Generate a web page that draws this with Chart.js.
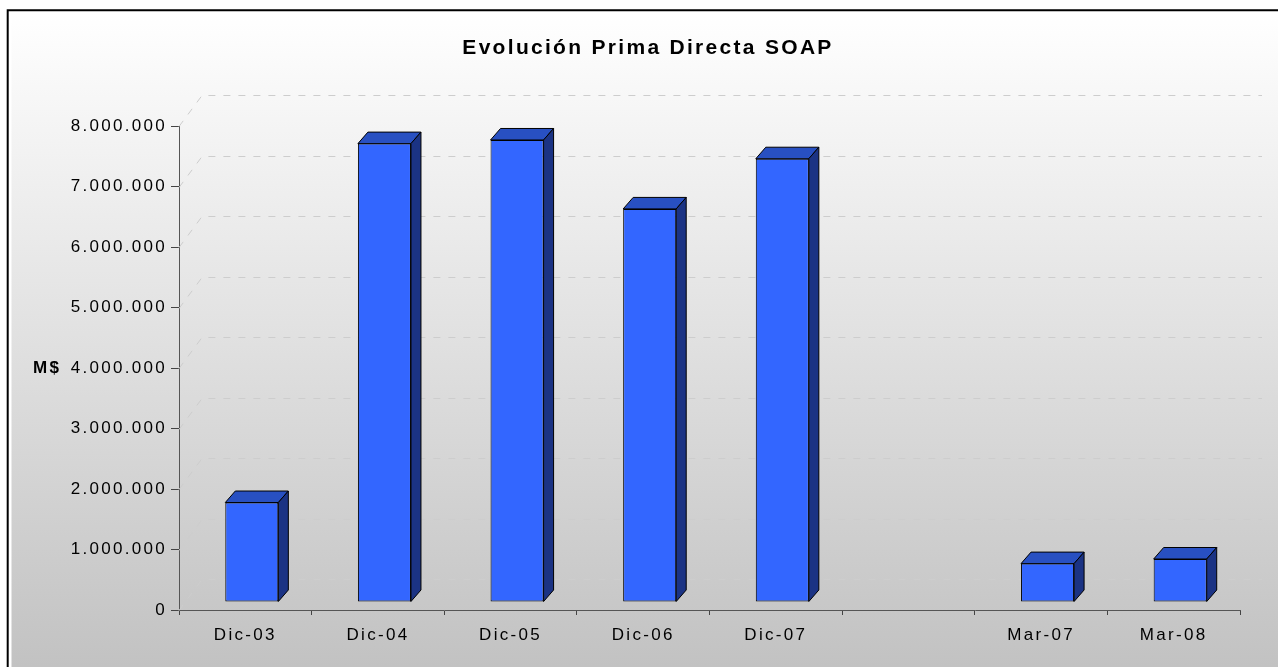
<!DOCTYPE html>
<html>
<head>
<meta charset="utf-8">
<script src="https://cdn.jsdelivr.net/npm/chart.js@4.4.1/dist/chart.umd.min.js"></script>
<style>
  body { margin: 0; background: #fff; }
  canvas { display: block; }
</style>
</head>
<body>
<canvas id="prima-chart" width="1278" height="667"></canvas>
<script>
const periodos = ['Dic-03', 'Dic-04', 'Dic-05', 'Dic-06', 'Dic-07', '', 'Mar-07', 'Mar-08'];
const primaDirecta = [1645000, 7580000, 7640000, 6500000, 7330000, null, 635000, 711000];
const yMax = 8000000;
const yStep = 1000000;
const titulo = 'Evolución Prima Directa SOAP';
const unidad = 'M$';

// desplazamiento de la pared del fondo y de las barras (efecto 3D)
const fondoDx = 23, fondoDy = -31;
const barraDx = 6.5, barraDy = -8;
const caraDx = 10, caraDy = -11.5;
const espaciado = '2.3px';

Chart.defaults.font.family = "'Liberation Sans', Arial, sans-serif";
Chart.defaults.color = '#000';

function formatoMiles(v) {
    return String(v).replace(/\B(?=(\d{3})+(?!\d))/g, '.');
}

const efecto3d = {
    id: 'efecto3d',
    beforeUpdate(chart) {
        chart.ctx.letterSpacing = espaciado;
    },
    beforeDraw(chart) {
        const c = chart.ctx;
        const w = chart.width, h = chart.height;
        c.save();
        c.fillStyle = '#fff';
        c.fillRect(0, 0, w, h);
        const g = c.createLinearGradient(0, 12, 0, h);
        g.addColorStop(0, '#ffffff');
        g.addColorStop(1, '#c2c2c2');
        c.fillStyle = g;
        c.fillRect(11.5, 12.5, w - 11.5, h - 12.5);
        c.strokeStyle = '#000';
        c.lineWidth = 2;
        c.beginPath();
        c.moveTo(7.7, h);
        c.lineTo(7.7, 10.3);
        c.lineTo(w, 10.3);
        c.stroke();
        c.restore();
        c.letterSpacing = espaciado;
    },
    beforeDatasetsDraw(chart) {
        const c = chart.ctx;
        const y = chart.scales.y;
        const area = chart.chartArea;
        c.save();
        c.strokeStyle = '#cdcdcd';
        c.lineWidth = 1;
        c.setLineDash([7, 8]);
        y.ticks.forEach(t => {
            const py = Math.round(y.getPixelForValue(t.value)) + 0.5;
            c.beginPath();
            c.moveTo(area.left, py);
            c.lineTo(area.left + fondoDx, py + fondoDy);
            c.lineTo(area.right + fondoDx - 1, py + fondoDy);
            c.stroke();
        });
        c.restore();
        c.save();
        c.translate(barraDx, barraDy);
    },
    afterDatasetsDraw(chart) {
        const c = chart.ctx;
        const meta = chart.getDatasetMeta(0);
        c.lineWidth = 1;
        c.strokeStyle = '#000';
        meta.data.forEach((bar, i) => {
            if (primaDirecta[i] == null) return;
            const p = bar.getProps(['x', 'y', 'base', 'width'], true);
            const l = p.x - p.width / 2, r = p.x + p.width / 2;
            const t = p.y, b = p.base;
            c.fillStyle = '#2850c2';
            c.beginPath();
            c.moveTo(l, t);
            c.lineTo(l + caraDx, t + caraDy);
            c.lineTo(r + caraDx, t + caraDy);
            c.lineTo(r, t);
            c.closePath();
            c.fill();
            c.stroke();
            c.fillStyle = '#1b3384';
            c.beginPath();
            c.moveTo(r, t);
            c.lineTo(r + caraDx, t + caraDy);
            c.lineTo(r + caraDx, b + caraDy);
            c.lineTo(r, b);
            c.closePath();
            c.fill();
            c.stroke();
        });
        c.restore();
    },
    afterDraw(chart) {
        const c = chart.ctx;
        c.save();
        c.letterSpacing = espaciado;
        c.font = "bold 17px 'Liberation Sans', Arial, sans-serif";
        c.fillStyle = '#000';
        c.textAlign = 'left';
        c.textBaseline = 'middle';
        c.fillText(unidad, 33, chart.scales.y.getPixelForValue(yMax / 2));
        c.restore();
    }
};

const ctx = document.getElementById('prima-chart').getContext('2d');
const primaChart = new Chart(ctx, {
    type: 'bar',
    data: {
        labels: periodos,
        datasets: [{
            label: titulo,
            data: primaDirecta,
            backgroundColor: '#3366ff',
            borderColor: '#000',
            borderWidth: 1,
            borderSkipped: false,
            barPercentage: 0.4,
            categoryPercentage: 1.0,
        }],
    },
    options: {
        responsive: false,
        animation: false,
        layout: {
            padding: { left: 56, right: 38, top: 0, bottom: 0 },
        },
        plugins: {
            legend: { display: false },
            tooltip: { enabled: false },
            title: {
                display: true,
                text: titulo,
                color: '#000',
                font: { size: 21, weight: 'bold' },
                padding: { top: 36, bottom: 65 },
            },
        },
        scales: {
            x: {
                grid: {
                    drawOnChartArea: false,
                    drawTicks: true,
                    tickLength: 5,
                    color: '#444',
                },
                border: { display: true, color: '#555', width: 1 },
                ticks: {
                    font: { size: 17 },
                    color: '#000',
                    padding: 10,
                    maxRotation: 0,
                    autoSkip: false,
                },
                afterFit(scale) {
                    scale.height = 57;
                },
            },
            y: {
                min: 0,
                max: yMax,
                grid: {
                    drawOnChartArea: false,
                    drawTicks: true,
                    tickLength: 8,
                    color: '#444',
                },
                border: { display: true, color: '#555', width: 1 },
                ticks: {
                    stepSize: yStep,
                    font: { size: 17 },
                    color: '#000',
                    padding: 4,
                    callback: v => formatoMiles(v),
                },
                afterFit(scale) {
                    scale.width = 123;
                },
            },
        },
    },
    plugins: [efecto3d],
});
</script>
</body>
</html>
